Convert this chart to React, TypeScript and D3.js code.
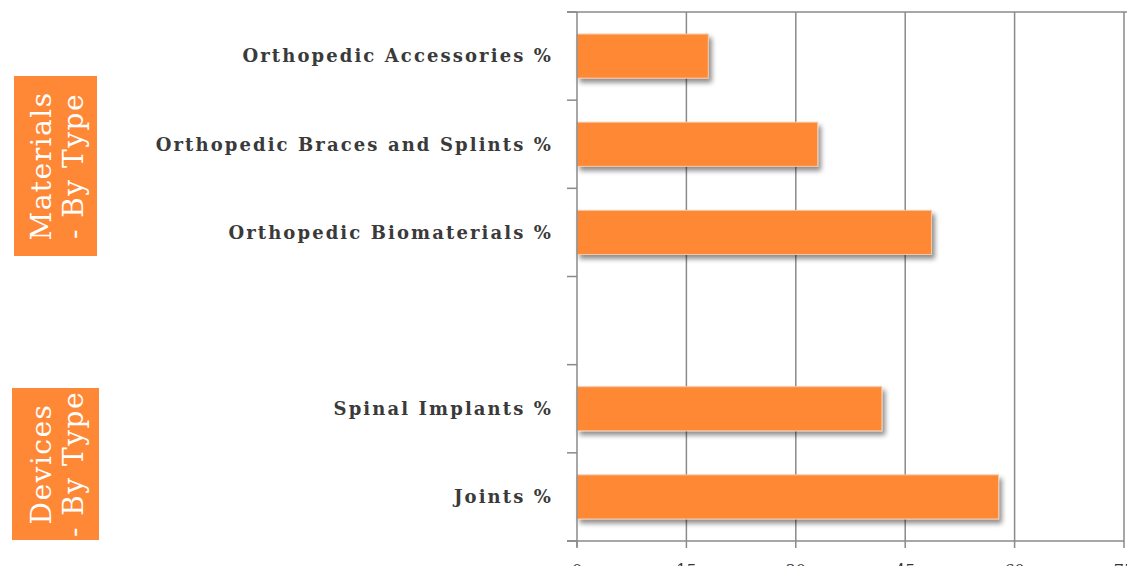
import React from "react";
import * as d3 from "d3";

const categories = [
  "Orthopedic Accessories %",
  "Orthopedic Braces and Splints %",
  "Orthopedic Biomaterials %",
  "",
  "Spinal Implants %",
  "Joints %",
];
const values: (number | null)[] = [18, 33, 48.6, null, 41.8, 57.8];
const xTicks = [0, 15, 30, 45, 60, 75];
const groupLabels = [
  { line1: "Materials", line2: "- By Type", from: 0, to: 2 },
  { line1: "Devices", line2: "- By Type", from: 4, to: 5 },
];

const W = 1127;
const H = 566;
const ORANGE = "#FF8836";
const GRID = "#8a8a8a";

export default function App() {
  const left = 577;
  const right = 1124;
  const top = 12;
  const bottom = 541;
  const x = d3.scaleLinear().domain([0, 75]).range([left, right]);
  const y = d3
    .scaleBand<number>()
    .domain(categories.map((_, i) => i))
    .range([top, bottom])
    .paddingInner(0.5)
    .paddingOuter(0.25);
  const step = y.step();
  const boundaries = d3.range(categories.length + 1).map((i) => top + i * step);

  const groupText = (cx: number, cy: number, g: { line1: string; line2: string }) => (
    <g transform={`translate(${cx},${cy}) rotate(-90)`}>
      <text textAnchor="middle" fontFamily="DejaVu Serif" fontSize={28} letterSpacing={1.5} fill="#fff" y={-5}>
        {g.line1}
      </text>
      <text textAnchor="middle" fontFamily="DejaVu Serif" fontSize={28} letterSpacing={1.5} fill="#fff" y={27}>
        {g.line2}
      </text>
    </g>
  );

  return (
    <div style={{ position: "fixed", left: 0, top: 0 }}>
      <svg width={W} height={H} style={{ display: "block", background: "#fff" }}>
        <defs>
          <filter id="sh" x="-5%" y="-30%" width="115%" height="180%">
            <feGaussianBlur in="SourceAlpha" stdDeviation="2.5" />
            <feOffset dx="3" dy="4" result="b" />
            <feComponentTransfer>
              <feFuncA type="linear" slope="0.45" />
            </feComponentTransfer>
            <feMerge>
              <feMergeNode />
              <feMergeNode in="SourceGraphic" />
            </feMerge>
          </filter>
        </defs>
        <line x1={567} x2={W} y1={top} y2={top} stroke={GRID} strokeWidth={1.5} />
        {xTicks.slice(1).map((t) => (
          <line key={t} x1={x(t)} x2={x(t)} y1={top} y2={bottom} stroke={GRID} strokeWidth={1.5} />
        ))}
        {values.map((v, i) =>
          v == null ? null : (
            <rect
              key={i}
              x={x(0)}
              y={y(i)!}
              width={x(v) - x(0)}
              height={y.bandwidth()}
              fill={ORANGE}
              stroke="#f6c7a4"
              strokeWidth={1}
              filter="url(#sh)"
            />
          )
        )}
        <line x1={left} x2={left} y1={top} y2={bottom + 6} stroke={GRID} strokeWidth={1.5} />
        {boundaries.map((b, i) => (
          <line key={i} x1={567} x2={left} y1={b} y2={b} stroke={GRID} strokeWidth={1.5} />
        ))}
        <line x1={567} x2={right} y1={bottom} y2={bottom} stroke={GRID} strokeWidth={1.5} />
        {xTicks.map((t) => (
          <g key={t}>
            <line x1={x(t)} x2={x(t)} y1={bottom} y2={bottom + 7} stroke={GRID} strokeWidth={1.5} />
            <text x={x(t)} y={576} textAnchor="middle" fontFamily="DejaVu Serif" fontSize={16} fill="#333">
              {t}
            </text>
          </g>
        ))}
        {categories.map((c, i) =>
          c ? (
            <text
              key={i}
              x={553}
              y={y(i)! + y.bandwidth() / 2}
              dy="0.35em"
              textAnchor="end"
              fontFamily="DejaVu Serif"
              fontWeight="bold"
              fontSize={18}
              letterSpacing={2.1}
              fill="#3a3a3a"
            >
              {c}
            </text>
          ) : null
        )}
        <rect x={14} y={76} width={83} height={180} fill={ORANGE} />
        <rect x={12} y={388} width={87} height={152} fill={ORANGE} />
        {groupText(55.5, 166, groupLabels[0])}
        {groupText(55.5, 464, groupLabels[1])}
      </svg>
    </div>
  );
}
